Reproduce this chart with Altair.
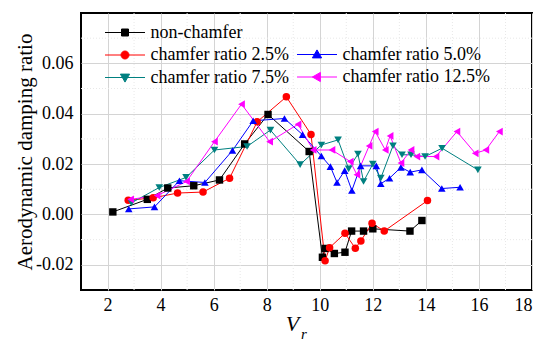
import altair as alt
import pandas as pd

series = ["non-chamfer", "chamfer ratio 2.5%", "chamfer ratio 5.0%",
          "chamfer ratio 7.5%", "chamfer ratio 12.5%"]
colors = ["#000000", "#ff0000", "#0000ff", "#008080", "#ff00ff"]
shapes = ["square", "circle", "triangle-up", "triangle-down", "triangle-left"]
sizes = [55, 60, 85, 85, 85]

non_x = [2.2, 3.5, 4.27, 5.25, 6.22, 7.17, 8.05, 9.6, 10.1, 10.2, 10.55, 10.95,
         11.2, 11.65, 12.0, 13.4, 13.85]
non_y = [0.001, 0.006, 0.0105, 0.0114, 0.0137, 0.028, 0.0397, 0.025, -0.017,
         -0.0135, -0.0155, -0.015, -0.0066, -0.0066, -0.0057, -0.0066, -0.0024]

red_x = [2.78, 3.72, 4.64, 5.6, 6.6, 7.64, 8.74, 9.67, 10.2, 10.37, 10.95,
         11.34, 11.55, 11.97, 12.43, 14.06]
red_y = [0.0056, 0.0066, 0.0085, 0.0089, 0.0144, 0.0368, 0.0467, 0.0318,
         -0.0184, -0.0132, -0.0075, -0.0134, -0.0105, -0.0035, -0.0066, 0.0055]

blue_x = [2.8, 3.77, 4.71, 5.67, 6.71, 7.49, 8.67, 9.35, 10.06, 10.4, 10.65,
          10.94, 11.21, 11.54, 12.13, 12.3, 12.63, 13.06, 13.41, 13.85, 14.6, 15.29]
blue_y = [0.0022, 0.003, 0.0134, 0.0127, 0.0254, 0.0372, 0.0381, 0.0317, 0.0232,
          0.019, 0.0127, 0.0174, 0.0095, 0.0193, 0.0193, 0.0122, 0.0144, 0.0187,
          0.0168, 0.0177, 0.0103, 0.0108]

teal_x = [2.9, 3.95, 4.96, 6.03, 7.26, 8.14, 9.26, 10.06, 10.69, 11.09, 11.44,
          11.65, 12.0, 12.3, 12.76, 13.1, 13.44, 13.97, 14.61, 15.96]
teal_y = [0.0046, 0.0107, 0.0147, 0.0256, 0.027, 0.0335, 0.0198, 0.0276, 0.0296,
          0.0181, 0.024, 0.0131, 0.02, 0.0144, 0.0273, 0.0237, 0.0237, 0.023,
          0.0263, 0.0177]

mag_x = [2.87, 3.87, 4.98, 6.03, 7.05, 8.11, 9.18, 9.75, 10.46, 11.15, 11.4,
         11.86, 12.09, 12.47, 12.65, 13.06, 13.44, 13.66, 14.38, 15.17, 15.86,
         16.26, 16.77]
mag_y = [0.006, 0.0075, 0.0131, 0.0289, 0.0438, 0.0289, 0.0358, 0.0256, 0.0256,
         0.021, 0.0158, 0.0272, 0.0329, 0.0256, 0.0312, 0.0204, 0.0256, 0.023,
         0.023, 0.0329, 0.0243, 0.0256, 0.0329]

x_major = [2, 4, 6, 8, 10, 12, 14, 16, 18]
x_minor = [3, 5, 7, 9, 11, 13, 15, 17]
y_major = [-0.02, 0.0, 0.02, 0.04, 0.06]
y_minor = [-0.01, 0.01, 0.03, 0.05, 0.07]

# legend symbols: line with marker (unit = 10 px at symbolSize 400)
leg_paths = [
    "M-2,0H2M-0.35,-0.35H0.35V0.35H-0.35Z",
    "M-2,0H2M-0.4,0A0.4,0.4,0,1,0,0.4,0A0.4,0.4,0,1,0,-0.4,0Z",
    "M-2,0H2M0,-0.46L0.46,0.34L-0.46,0.34Z",
    "M-2,0H2M0,0.46L0.46,-0.34L-0.46,-0.34Z",
    "M-2,0H2M-0.46,0L0.34,-0.46L0.34,0.46Z",
]

rows = []
for s, xs, ys in zip(series, [non_x, red_x, blue_x, teal_x, mag_x],
                     [non_y, red_y, blue_y, teal_y, mag_y]):
    for i, (xv, yv) in enumerate(zip(xs, ys)):
        rows.append({"series": s, "vr": xv, "ratio": yv, "idx": i})
df = pd.DataFrame(rows)

FONT = "Liberation Serif"
xscale = alt.Scale(domain=[1, 18], nice=False, zero=False)
yscale = alt.Scale(domain=[-0.03, 0.08], nice=False, zero=False)

x_axis = alt.Axis(
    values=x_major, format="d", ticks=False, domain=False,
    labelFont=FONT, labelFontSize=18, labelColor="black", labelPadding=6,
    grid=True, gridColor="#d4d4d4", gridWidth=1,
    title="V", titleFont=FONT, titleFontSize=22, titleFontStyle="italic",
    titleFontWeight="normal", titleColor="black",
    titleX=211, titleY=40, titleBaseline="alphabetic", titleAlign="center",
)
y_axis = alt.Axis(
    values=y_major,
    labelExpr="replace(format(datum.value, '.2f'), '\u2212', '-')",
    ticks=False, domain=False,
    labelFont=FONT, labelFontSize=18, labelColor="black", labelPadding=8,
    grid=True, gridColor="#d4d4d4", gridWidth=1,
    title="Aerodynamic damping ratio", titleFont=FONT, titleFontSize=21,
    titleFontWeight="normal", titleColor="black",
    titleX=-50, titleY=138.5, titleBaseline="alphabetic", titleAlign="center",
)

x_enc = alt.X("vr:Q", scale=xscale, axis=x_axis)
y_enc = alt.Y("ratio:Q", scale=yscale, axis=y_axis)

minor_v = alt.Chart(pd.DataFrame({"vr": x_minor})).mark_rule(
    color="#e8e8e8", strokeWidth=1, strokeDash=[1, 2]
).encode(x=x_enc)
minor_h = alt.Chart(pd.DataFrame({"ratio": y_minor})).mark_rule(
    color="#e8e8e8", strokeWidth=1, strokeDash=[1, 2]
).encode(y=y_enc)

base = alt.Chart(df).encode(
    x=x_enc, y=y_enc,
    color=alt.Color("series:N", scale=alt.Scale(domain=series, range=colors), legend=None),
)
lines = base.mark_line(strokeWidth=1).encode(order="idx:Q")
points = base.mark_point(filled=True, opacity=1).encode(
    shape=alt.Shape("series:N", scale=alt.Scale(domain=series, range=shapes), legend=None),
    size=alt.Size("series:N", scale=alt.Scale(domain=series, range=sizes), legend=None),
)


def legend_layer(names, lx, ly):
    idx = [series.index(n) for n in names]
    leg = alt.Legend(
        title=None, orient="none", legendX=lx, legendY=ly, padding=0,
        symbolSize=400, symbolStrokeWidth=1, labelFont=FONT, labelFontSize=18,
        labelColor="black", labelOffset=15, rowPadding=2.5, direction="vertical",
        labelLimit=300,
    )
    return alt.Chart(df).transform_filter("false").mark_point(
        filled=True, opacity=1, strokeWidth=1
    ).encode(
        fill=alt.Fill("series:N", scale=alt.Scale(domain=names, range=[colors[i] for i in idx]), legend=leg),
        stroke=alt.Stroke("series:N", scale=alt.Scale(domain=names, range=[colors[i] for i in idx]), legend=leg),
        shape=alt.Shape("series:N", scale=alt.Scale(domain=names, range=[leg_paths[i] for i in idx]), legend=leg),
    )


legA = legend_layer([series[0], series[1], series[3]], 33.5, 9)
legB = legend_layer([series[2], series[4]], 225.5, 31)

sub = alt.Chart(pd.DataFrame({"t": ["r"]})).mark_text(
    font=FONT, fontSize=15, fontStyle="italic", align="left", baseline="alphabetic",
    color="black",
).encode(text="t:N", x=alt.value(220), y=alt.value(326))

chart = alt.layer(minor_v, minor_h, lines, points, legA, legB, sub).resolve_scale(
    fill="independent", stroke="independent", shape="independent"
).properties(
    width=451, height=277,
    autosize=alt.AutoSizeParams(type="none"),
    padding={"left": 73, "top": 5, "right": 10, "bottom": 51},
).configure_view(stroke="black", strokeWidth=2)

chart.save("out.html", embed_options={"renderer": "svg", "actions": False})
